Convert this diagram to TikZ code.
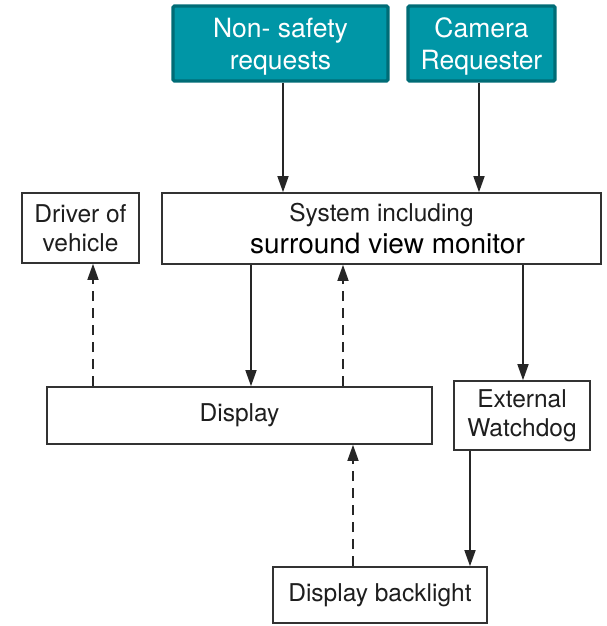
\documentclass[tikz,border=0pt]{standalone}
\usepackage{fontspec}
\setmainfont{TeX Gyre Heros}
\usetikzlibrary{arrows.meta}
\definecolor{tealfill}{RGB}{0,150,166}
\definecolor{tealedge}{RGB}{0,108,118}
\definecolor{boxedge}{RGB}{50,50,50}
\definecolor{ink}{RGB}{30,30,30}
\tikzset{
  plainbox/.style={draw=boxedge, line width=1.6pt, fill=white, inner sep=0pt,
    align=center, text=ink, font=\fontsize{24.5}{29}\selectfont},
  requestbox/.style={draw=tealedge, line width=3.2pt, fill=tealfill, rounded corners=1.5pt,
    inner sep=0pt, minimum height=75pt},
  requesttext/.style={yshift=-3pt, align=center, text=white,
    font=\fontsize{26.5}{32}\selectfont},
  flow/.style={draw=black!85, line width=1.5pt,
    -{Triangle[length=16pt,width=11pt]}},
  feedback/.style={flow, dash pattern=on 10pt off 7pt},
}
\begin{document}
\begin{tikzpicture}[x=1pt,y=-1pt]
\path[use as bounding box] (0,0) rectangle (606,626);

% request sources
\node[requestbox, minimum width=215pt,
  label={[requesttext]center:Non- safety\\requests}] (ns) at (280.5,43.5) {};
\node[requestbox, minimum width=147pt,
  label={[requesttext]center:Camera\\Requester}] (cam) at (481.5,43.5) {};

% main blocks
\node[plainbox, minimum width=117pt, minimum height=70pt] (drv) at (80.5,228)
  {Driver of\\vehicle};
\node[plainbox, minimum width=439pt, minimum height=71pt] (sys) at (381.5,228.5)
  {System including\\[3pt]{\fontsize{28}{31}\selectfont\color{black}\hspace*{12pt}surround view monitor}};
\node[plainbox, minimum width=385pt, minimum height=57pt] (disp) at (239.5,415.5)
  {Display};
\node[plainbox, minimum width=136pt, minimum height=69pt] (wd) at (522,415.5)
  {External\\Watchdog};
\node[plainbox, minimum width=214pt, minimum height=56pt] (bl) at (380,595)
  {Display backlight};

% connectors
\draw[flow] (ns.south -| 283,0) -- (sys.north -| 283,0);
\draw[flow] (cam.south -| 479,0) -- (sys.north -| 479,0);
\draw[flow] (sys.south -| 251,0) -- (disp.north -| 251,0);
\draw[feedback] (disp.north -| 343,0) -- (sys.south -| 343,0);
\draw[feedback] (disp.north -| 93,0) -- (drv.south -| 93,0);
\draw[flow] (sys.south -| 523,0) -- (wd.north -| 523,0);
\draw[flow] (wd.south -| 470,0) -- (bl.north -| 470,0);
\draw[feedback] (bl.north -| 353,0) -- (disp.south -| 353,0);
\end{tikzpicture}
\end{document}
